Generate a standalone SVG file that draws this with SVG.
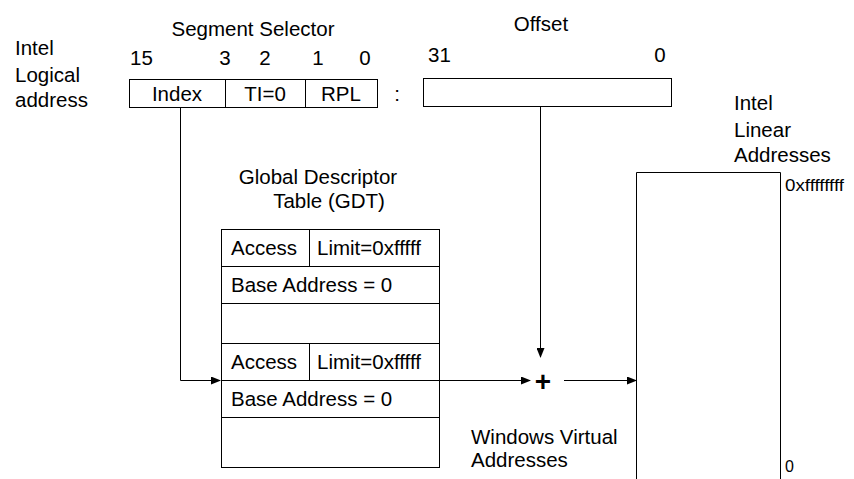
<svg xmlns="http://www.w3.org/2000/svg" width="854" height="479" viewBox="0 0 854 479">
<defs>
<marker id="ah" markerWidth="10" markerHeight="8" refX="9" refY="4" orient="auto" markerUnits="userSpaceOnUse">
<path d="M0,0 L10,4 L0,8 Z" fill="#000"/>
</marker>
<style>
text{font-family:"Liberation Sans",Arial,sans-serif;font-size:20.5px;fill:#000}
.m{text-anchor:middle}
.box{fill:#fff;stroke:#000;stroke-width:1}
.ln{fill:none;stroke:#000;stroke-width:1}
.hex{font-size:16px}
</style>
</defs>
<rect width="854" height="479" fill="#fff"/>

<g id="logical-label">
<text x="15" y="55">Intel</text>
<text x="15" y="82">Logical</text>
<text x="15" y="107">address</text>
</g>

<g id="segment-selector">
<text class="m" x="253" y="36">Segment Selector</text>
<text x="130" y="65">15</text>
<text class="m" x="225" y="65">3</text>
<text class="m" x="265" y="65">2</text>
<text class="m" x="318" y="65">1</text>
<text class="m" x="365" y="65">0</text>
<rect class="box" x="129.5" y="79.5" width="248" height="28"/>
<line class="ln" x1="225.5" y1="79.5" x2="225.5" y2="107.5"/>
<line class="ln" x1="305.5" y1="79.5" x2="305.5" y2="107.5"/>
<text class="m" x="177" y="101">Index</text>
<text class="m" x="265" y="101">TI=0</text>
<text class="m" x="341" y="101">RPL</text>
</g>

<g id="colon">
<text class="m" x="397" y="101">:</text>
</g>

<g id="offset">
<text class="m" x="541" y="31">Offset</text>
<text x="428" y="62">31</text>
<text class="m" x="660" y="62">0</text>
<rect class="box" x="423.5" y="78.5" width="248" height="28"/>
</g>

<g id="gdt">
<text class="m" x="318" y="184">Global Descriptor</text>
<text class="m" x="329" y="208">Table (GDT)</text>
<rect class="box" x="221.5" y="229.5" width="218" height="238"/>
<line class="ln" x1="221.5" y1="266.5" x2="439.5" y2="266.5"/>
<line class="ln" x1="221.5" y1="303.5" x2="439.5" y2="303.5"/>
<line class="ln" x1="221.5" y1="343.5" x2="439.5" y2="343.5"/>
<line class="ln" x1="221.5" y1="380.5" x2="439.5" y2="380.5"/>
<line class="ln" x1="221.5" y1="417.5" x2="439.5" y2="417.5"/>
<line class="ln" x1="309.5" y1="229.5" x2="309.5" y2="266.5"/>
<line class="ln" x1="309.5" y1="343.5" x2="309.5" y2="380.5"/>
<text x="231" y="255">Access</text>
<text x="317" y="255">Limit=0xfffff</text>
<text x="231" y="292">Base Address = 0</text>
<text x="231" y="369">Access</text>
<text x="317" y="369">Limit=0xfffff</text>
<text x="231" y="406">Base Address = 0</text>
</g>

<g id="adder">
<text class="m" x="543" y="391" style="font-size:28px;font-weight:bold">+</text>
</g>

<g id="windows-label">
<text x="471" y="444">Windows Virtual</text>
<text x="471" y="467">Addresses</text>
</g>

<g id="linear">
<text x="734" y="110">Intel</text>
<text x="734" y="137">Linear</text>
<text x="734" y="162">Addresses</text>
<path class="ln" d="M636.5,490 V172.5 H780.5 V490"/>
<text class="hex" x="785" y="191" textLength="59" lengthAdjust="spacingAndGlyphs">0xffffffff</text>
<text class="hex" x="785" y="472">0</text>
</g>

<g id="connectors">
<path class="ln" d="M180.5,107.5 V380.5 H220" marker-end="url(#ah)"/>
<path class="ln" d="M439.5,380.5 H530" marker-end="url(#ah)"/>
<path class="ln" d="M540.5,106.5 V357" marker-end="url(#ah)"/>
<path class="ln" d="M564,380.5 H636" marker-end="url(#ah)"/>
</g>
</svg>
